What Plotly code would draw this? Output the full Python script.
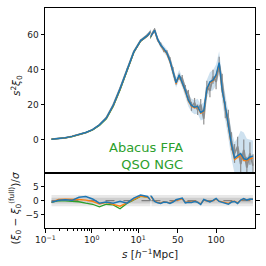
import plotly.graph_objects as go

# ---------------- data ----------------
s_log = [0.135, 0.19, 0.267, 0.375, 0.527, 0.741, 1.04, 1.46, 2.06, 2.9, 4.07, 5.73, 8.05, 11.3, 15.9]
s_lin = [20, 24, 28, 32, 36, 40, 44, 48, 52, 56, 60, 64, 68, 72, 76, 80, 84, 88, 92, 96,
         100, 104, 108, 112, 116, 120, 124, 128, 132, 136, 140, 144, 148]

blue_log = [0.2, 0.5, 1.0, 1.8, 2.8, 4.0, 5.7, 8.4, 12.3, 19.5, 29.0, 40.0, 50.0, 56.5, 59.5]
blue_lin = [62.5, 57.5, 54, 52, 49.5, 45, 38, 32.5, 37, 33, 28, 22.5, 19.5, 18.5, 19, 15.5, 16.5,
            29, 33, 34, 37, 44, 28, 19, 8, -3, -10.5, -9, -8, -11, -11.5, -10, -9.5]
blue_sig_log = [0.05, 0.05, 0.06, 0.08, 0.1, 0.12, 0.15, 0.2, 0.25, 0.3, 0.4, 0.5, 0.6, 0.8, 1.0]
blue_sig_lin = [1.2, 1.5, 1.7, 1.9, 2.1, 2.3, 2.5, 2.7, 3.0, 3.2, 3.4, 3.6, 3.8, 4.0, 4.3, 4.6, 4.9,
                5.2, 5.5, 5.8, 6.0, 6.5, 6.8, 7.0, 7.5, 8.0, 9.0, 10.0, 13.0, 15.0, 12.0, 10.0, 9.0]

orange_log = [0.2, 0.5, 1.0, 1.8, 2.8, 4.0, 5.6, 8.3, 12.1, 19.2, 28.6, 39.6, 49.8, 56.3, 59.3]
orange_lin = [62.3, 57.3, 53.8, 51.5, 49, 44.5, 37.5, 32, 36.5, 32.5, 27.5, 22, 19, 18, 18.5, 15, 16,
              28.5, 32.5, 33.5, 36.5, 43, 27.5, 18.5, 7, -4, -11.5, -10, -9, -12, -12, -11, -10.5]

green_log = [0.2, 0.5, 1.0, 1.7, 2.7, 3.9, 5.5, 8.1, 11.9, 19.0, 28.3, 39.5, 49.8, 56.3, 59.4]

grey_log = [0.2, 0.5, 1.0, 1.8, 2.8, 3.9, 5.6, 8.4, 12.5, 19.8, 29.3, 40.2, 50.3, 56.8, 59.8]
grey_lin = [63, 57, 54.5, 51, 50, 46, 40, 33, 36, 35, 29, 26, 19, 21, 17, 20, 12,
            30, 28, 36, 33, 43, 33, 17, 12, -1, -8, -4, -14, -6, -16, -8, -15]
grey_err_log = [0.05, 0.05, 0.06, 0.08, 0.1, 0.12, 0.15, 0.2, 0.25, 0.3, 0.35, 0.4, 0.5, 0.6, 0.8]
grey_err_lin = [0.8, 0.9, 1.0, 1.1, 1.2, 1.3, 1.5, 1.6, 1.8, 2.0, 2.2, 2.4, 2.6, 2.8, 3.0, 3.2, 3.4,
                3.6, 3.8, 4.0, 4.2, 4.4, 4.6, 4.8, 5.0, 5.2, 5.4, 5.6, 5.8, 6.0, 6.2, 6.4, 6.6]

res_blue_log = [-0.6, 0.1, 0.3, 0.1, 1.2, 1.5, 0.6, -0.9, -0.5, -0.9, -0.2, -0.9, 0.9, 2.0, 1.5]
res_orange_log = [-0.6, 0.4, 0.5, 0.5, 0.4, 0.2, -0.3, -1.2, -0.6, -1.3, -2.0, -0.8, 0.5, 1.6, 1.2]
res_green_log = [-0.6, 0.0, -0.1, -0.2, -0.4, -0.9, -1.3, -2.2, -1.3, -1.5, -2.9, -1.0, 0.3, 1.5, 1.3]
res_blue_lin = [-0.3, -0.8, -1.0, -0.5, -0.6, -1.0, -0.5, 0.3, 0.5, 0.9, -0.8, -0.6, -0.7, -0.3, -0.6,
                -1.4, 0.4, -0.2, -0.5, 0.1, 0.8, -0.3, -0.6, -0.8, -1.3, -0.5, -0.3, -1.0, 0.2, 0.7,
                0.2, 0.6, 0.5]
res_orange_lin = [-0.2, -0.6, -0.8, -0.4, -0.5, -0.8, -0.3, 0.2, 0.3, 0.6, -0.6, -0.4, -0.5, -0.2, -0.5,
                  -1.1, 0.2, -0.1, -0.3, 0.0, 0.5, -0.2, -0.5, -0.6, -1.0, -0.4, -0.2, -0.8, 0.1, 0.5,
                  0.3, 0.4, 0.6]

band_outer = 2
band_inner = 1

label_lines = ["Abacus FFA", "QSO NGC"]

# ---------------- build ----------------
BLUE = "#1f77b4"
ORANGE = "#ff7f0e"
GREEN = "#2ca02c"
GREY = "#7f7f7f"
FONT = "DejaVu Sans"

s_all = s_log + s_lin
blue_all = blue_log + blue_lin
sig_all = blue_sig_log + blue_sig_lin
orange_all = orange_log + orange_lin
grey_all = grey_log + grey_lin
gerr_all = grey_err_log + grey_err_lin
res_blue_all = res_blue_log + res_blue_lin
res_orange_all = res_orange_log + res_orange_lin

fig = go.Figure()

top_axes = [("x", "y"), ("x2", "y2")]
bot_axes = [("x3", "y3"), ("x4", "y4")]

upper = [v + e for v, e in zip(blue_all, sig_all)]
lower = [v - e for v, e in zip(blue_all, sig_all)]

for xa, ya in top_axes:
    fig.add_trace(go.Scatter(x=s_all + s_all[::-1], y=upper + lower[::-1], fill="toself", mode="lines",
                             fillcolor="rgba(31,119,180,0.22)", line=dict(width=0),
                             hoverinfo="skip", xaxis=xa, yaxis=ya))
    fig.add_trace(go.Scatter(x=s_all, y=grey_all, mode="lines", line=dict(color=GREY, width=1.8),
                             opacity=0.85,
                             error_y=dict(type="data", array=gerr_all, color=GREY, thickness=1.2, width=0),
                             xaxis=xa, yaxis=ya))
    fig.add_trace(go.Scatter(x=s_log, y=green_log, mode="lines", line=dict(color=GREEN, width=1.3),
                             xaxis=xa, yaxis=ya))
    fig.add_trace(go.Scatter(x=s_all, y=orange_all, mode="lines", line=dict(color=ORANGE, width=1.3),
                             xaxis=xa, yaxis=ya))
    fig.add_trace(go.Scatter(x=s_all, y=blue_all, mode="lines", line=dict(color=BLUE, width=1.5),
                             xaxis=xa, yaxis=ya))

band_x = [(s_log[0], s_lin[0]), (s_log[-1], s_lin[-1])]
for (xa, ya), (x0, x1) in zip(bot_axes, band_x):
    fig.add_trace(go.Scatter(x=[x0, x1, x1, x0], y=[-band_outer, -band_outer, band_outer, band_outer],
                             fill="toself", mode="lines", fillcolor="rgba(128,128,128,0.18)",
                             line=dict(width=0), xaxis=xa, yaxis=ya))
    fig.add_trace(go.Scatter(x=[x0, x1, x1, x0], y=[-band_inner, -band_inner, band_inner, band_inner],
                             fill="toself", mode="lines", fillcolor="rgba(128,128,128,0.25)",
                             line=dict(width=0), xaxis=xa, yaxis=ya))
    fig.add_trace(go.Scatter(x=[x0, x1], y=[0, 0], mode="lines",
                             line=dict(color=GREY, width=1.2, dash="dash"), xaxis=xa, yaxis=ya))

xa, ya = bot_axes[0]
fig.add_trace(go.Scatter(x=s_log, y=res_green_log, mode="lines", line=dict(color=GREEN, width=1.3),
                         xaxis=xa, yaxis=ya))
for xa, ya in bot_axes:
    fig.add_trace(go.Scatter(x=s_all, y=res_orange_all, mode="lines", line=dict(color=ORANGE, width=1.3),
                             xaxis=xa, yaxis=ya))
    fig.add_trace(go.Scatter(x=s_all, y=res_blue_all, mode="lines", line=dict(color=BLUE, width=1.5),
                             xaxis=xa, yaxis=ya))

W, H = 266, 266
L, R, T, B = 45, 8, 7, 38
split = 107 / 213
ysplit = 55 / 221
logrange = [-1.01, 1.267]
linrange = [14.7, 150.6]
toprange = [-19.3, 75.3]
botrange = [-9.8, 9.8]

tickfont = dict(family=FONT, size=9, color="#222")
common = dict(showgrid=False, zeroline=False, linecolor="black", linewidth=1,
              tickcolor="black", ticklen=3.5, tickwidth=1, tickfont=tickfont)
common_nofont = {k: v for k, v in common.items() if k != "tickfont"}

minor_vals = [0.2, 0.3, 0.4, 0.5, 0.6, 0.7, 0.8, 0.9, 2, 3, 4, 5, 6, 7, 8, 9]

fig.update_layout(
    width=W, height=H, margin=dict(l=L, r=R, t=T, b=B),
    paper_bgcolor="white", plot_bgcolor="white", showlegend=False,
    font=dict(family=FONT, color="#222"),
    xaxis=dict(domain=[0, split], anchor="y", type="log", range=logrange, showticklabels=False,
               ticks="", showline=True, mirror=True, **common_nofont),
    yaxis=dict(domain=[ysplit, 1], anchor="x", range=toprange, tickvals=[0, 20, 40, 60],
               ticks="outside", showline=True, **common),
    xaxis2=dict(domain=[split, 1], anchor="y2", range=linrange, showticklabels=False, ticks="",
                showline=True, mirror=True, **common_nofont),
    yaxis2=dict(domain=[ysplit, 1], anchor="x2", side="right", range=toprange, tickvals=[0, 20, 40, 60],
                ticks="outside", showticklabels=False, showline=True, **common),
    xaxis3=dict(domain=[0, split], anchor="y3", type="log", range=logrange,
                tickvals=[0.1, 1, 10], ticktext=["10<sup>−1</sup>", "10<sup>0</sup>", "10<sup>1</sup>"],
                ticks="outside", showline=True, mirror=True,
                minor=dict(ticks="outside", ticklen=2, tickwidth=0.8, tickcolor="black",
                           tickmode="array", tickvals=minor_vals), **common),
    yaxis3=dict(domain=[0, ysplit], anchor="x3", range=botrange, tickvals=[-5, 0, 5],
                ticktext=["−5", "0", "5"], ticks="outside", showline=True, **common),
    xaxis4=dict(domain=[split, 1], anchor="y4", range=linrange, tickvals=[50, 100],
                ticks="outside", showline=True, mirror=True, **common),
    yaxis4=dict(domain=[0, ysplit], anchor="x4", side="right", range=botrange, tickvals=[-5, 0, 5],
                ticks="outside", showticklabels=False, showline=True, **common),
)

def px_to_paper_x(px):
    return (px - L) / (W - L - R)

def px_to_paper_y(py):
    return 1 - (py - T) / (H - T - B)

fig.add_annotation(text="<br>".join(label_lines), xref="paper", yref="paper",
                   x=px_to_paper_x(187), y=px_to_paper_y(155.5), xanchor="right", yanchor="middle",
                   align="right", showarrow=False, font=dict(family=FONT, size=13, color=GREEN))
fig.add_annotation(text="<i>s</i><sup>2</sup><i>ξ</i><sub>0</sub>", xref="paper", yref="paper",
                   x=px_to_paper_x(16), y=px_to_paper_y(85), textangle=-90, showarrow=False,
                   xanchor="center", yanchor="middle", font=dict(family=FONT, size=10.5, color="#222"))
fig.add_annotation(text="(<i>ξ</i><sub>0</sub> − <i>ξ</i><sub>0</sub><sup>(full)</sup>)/<i>σ</i>",
                   xref="paper", yref="paper",
                   x=px_to_paper_x(15), y=px_to_paper_y(208), textangle=-90, showarrow=False,
                   xanchor="center", yanchor="middle", font=dict(family=FONT, size=10.5, color="#222"))
fig.add_annotation(text="<i>s</i> [<i>h</i><sup>−1</sup>Mpc]", xref="paper", yref="paper",
                   x=px_to_paper_x(152), y=px_to_paper_y(254), showarrow=False,
                   xanchor="center", yanchor="middle", font=dict(family=FONT, size=10.5, color="#222"))

fig.write_html("out.html", config={"displayModeBar": False},
               post_script="document.body.style.margin='0px';document.body.style.padding='0px';")
